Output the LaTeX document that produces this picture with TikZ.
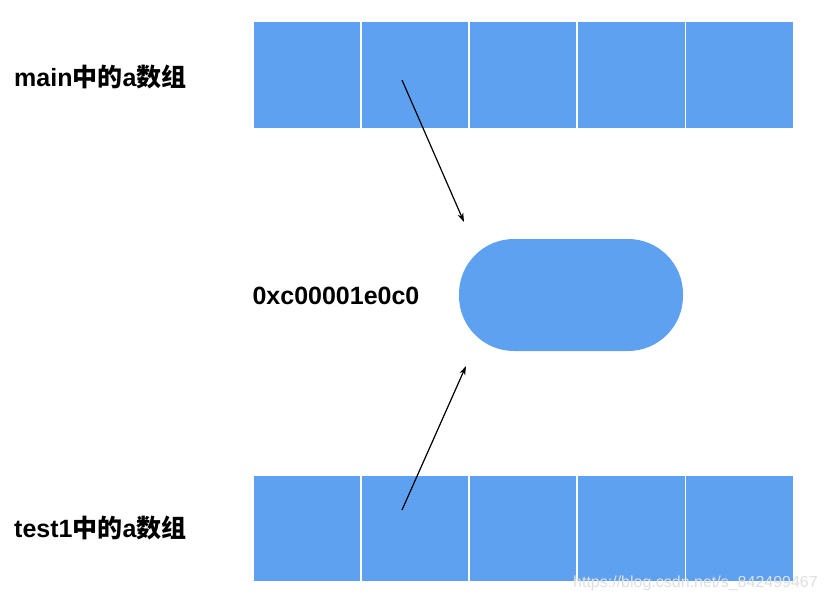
\documentclass[tikz,border=0pt]{standalone}
\usepackage{fontspec}
\setmainfont{Liberation Sans}
\newfontfamily\cjk{Noto Sans CJK SC}
\usetikzlibrary{arrows.meta}
\definecolor{cellblue}{HTML}{5EA1F0}
\tikzset{
  cell/.style={fill=cellblue, draw=white, line width=1.5pt, minimum width=108pt, minimum height=107pt, inner sep=0pt, anchor=north west},
  lbl/.style={font=\fontsize{25}{28}\selectfont\bfseries, anchor=west, inner sep=0pt},
  arr/.style={-{Stealth[length=9pt,width=6pt]}, line width=1.2pt}
}
\begin{document}
\begin{tikzpicture}[x=1pt,y=-1pt]
\useasboundingbox (0,0) rectangle (828,602);
\foreach \i in {0,...,4} {
  \node[cell] (t\i) at (252+108.2*\i,21) {};
  \node[cell] (b\i) at (252+108.2*\i,474) {};
}
\node[fill=cellblue, rounded corners=55pt, minimum width=224pt, minimum height=112pt, inner sep=0pt] (p) at (571,295) {};
\node[lbl] (l1) at (14,77) {main{\cjk\bfseries 中的}a{\cjk\bfseries 数组}};
\node[lbl] (l2) at (14,528) {test1{\cjk\bfseries 中的}a{\cjk\bfseries 数组}};
\node[lbl, anchor=center] (addr) at (336,296) {0xc00001e0c0};
\coordinate (s1) at (402,80);
\coordinate (e1) at (464,222);
\coordinate (s2) at (402,510);
\coordinate (e2) at (466,366);
\draw[arr] (s1) -- (e1);
\draw[arr] (s2) -- (e2);
\node[font=\fontsize{16}{18}\selectfont, text=gray!25, anchor=east, inner sep=0pt] (wm) at (818,583) {https://blog.csdn.net/s\_842499467};
\end{tikzpicture}
\end{document}
